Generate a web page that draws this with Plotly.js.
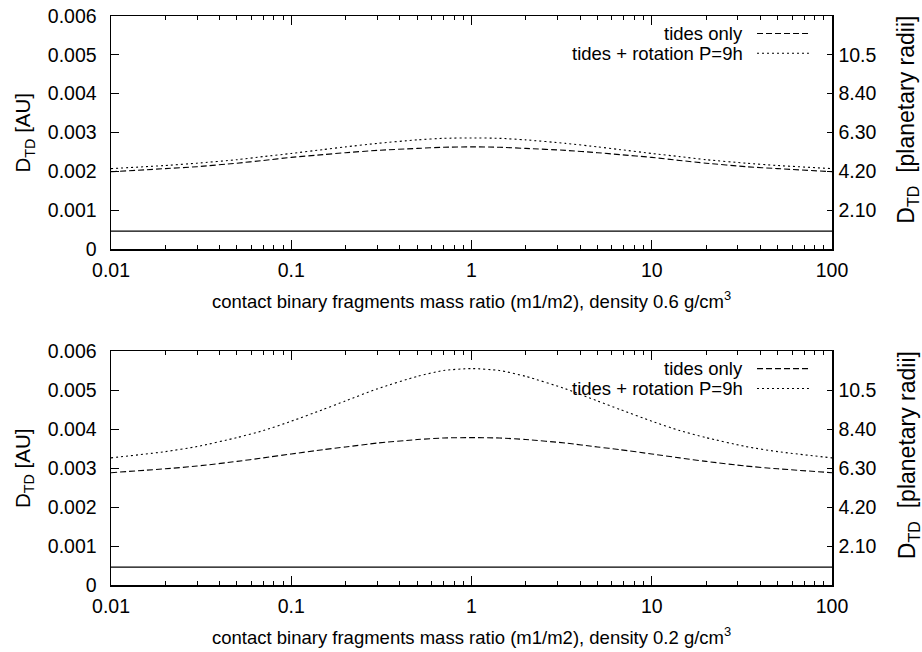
<!DOCTYPE html>
<html>
<head>
<meta charset="utf-8">
<script src="https://cdn.plot.ly/plotly-3.0.1.min.js"></script>
<style>html,body{margin:0;padding:0;background:#fff;}#chart{width:922px;height:652px;}</style>
</head>
<body>
<div id="chart"></div>
<script>
// mass ratio m1/m2
var massRatio = [0.01,0.02,0.03,0.05,0.07,0.1,0.15,0.2,0.3,0.5,0.7,1,1.43,2,3.33,5,6.67,10,14.3,20,33.3,50,100];
// density 0.6 g/cm3 (AU)
var tidesOnly06 = [0.00199,0.00207,0.00212,0.00221,0.00228,0.00236,0.00243,0.00248,0.00254,0.00259,0.00262,0.00263,0.00262,0.00259,0.00254,0.00248,0.00243,0.00236,0.00228,0.00221,0.00212,0.00207,0.00199];
var tidesRot06  = [0.00207,0.00215,0.00221,0.00230,0.00238,0.00246,0.00256,0.00263,0.00272,0.00281,0.00285,0.00286,0.00285,0.00281,0.00272,0.00263,0.00256,0.00246,0.00238,0.00230,0.00221,0.00215,0.00207];
// density 0.2 g/cm3 (AU)
var tidesOnly02 = [0.00288,0.00298,0.00305,0.00317,0.00326,0.00336,0.00347,0.00354,0.00364,0.00373,0.00377,0.00378,0.00377,0.00373,0.00364,0.00354,0.00347,0.00336,0.00326,0.00317,0.00305,0.00298,0.00288];
var tidesRot02  = [0.00326,0.00342,0.00355,0.00378,0.00396,0.00420,0.00450,0.00472,0.00503,0.00535,0.00550,0.00555,0.00550,0.00535,0.00503,0.00472,0.00450,0.00420,0.00396,0.00378,0.00355,0.00342,0.00326];
// planetary radius line (AU)
var radiusLineX = [0.01,100];
var radiusLineY = [0.00046,0.00046];

var xTickVals = [0.01,0.1,1,10,100];
var xTickText = ["0.01","0.1","1","10","100"];
var yTickVals = [0,0.001,0.002,0.003,0.004,0.005,0.006];
var yTickText = ["0","0.001","0.002","0.003","0.004","0.005","0.006"];
var y2TickVals = [2.1,4.2,6.3,8.4,10.5];
var y2TickText = ["2.10","4.20","6.30","8.40","10.5"];
var legendNames = ["tides only","tides + rotation P=9h"];
var xTitles = ["contact binary fragments mass ratio (m1/m2), density 0.6 g/cm<sup>3</sup>",
               "contact binary fragments mass ratio (m1/m2), density 0.2 g/cm<sup>3</sup>"];
var yTitle = "D<sub>TD</sub> [AU]";
var y2Title = "D<sub>TD</sub>\u00a0\u00a0[planetary radii]";

var minorVals = [];
for (var d = -2; d < 2; d++) { for (var m = 2; m <= 9; m++) { minorVals.push(m * Math.pow(10, d)); } }

var FAM = "Liberation Sans, Arial, Helvetica, sans-serif";
var FONT = {family: FAM, size: 18.5, color: "#000"};
var TICKFONT = {family: FAM, size: 19.5, color: "#000"};
var DASH = "6px,3px", DOT = "2px,3px";

function curve(x, y, xa, ya, dash, w) {
  return {x: x, y: y, xaxis: xa, yaxis: ya, type: "scatter", mode: "lines",
          line: {color: "#000", width: w, dash: dash, shape: "spline", smoothing: 0.6},
          showlegend: false, hoverinfo: "skip"};
}
var data = [
  curve(radiusLineX, radiusLineY, "x", "y", "solid", 1.3),
  curve(massRatio, tidesOnly06, "x", "y", DASH, 1.1),
  curve(massRatio, tidesRot06, "x", "y", DOT, 1.1),
  curve(radiusLineX, radiusLineY, "x2", "y3", "solid", 1.3),
  curve(massRatio, tidesOnly02, "x2", "y3", DASH, 1.1),
  curve(massRatio, tidesRot02, "x2", "y3", DOT, 1.1)
];

function xAxis(anchor) {
  return {type: "log", range: [-2, 2], anchor: anchor, tickmode: "array", tickvals: xTickVals, ticktext: xTickText,
          ticks: "inside", ticklen: 9, tickwidth: 1, tickcolor: "#000", showline: true, linecolor: "#000", linewidth: 1.5,
          mirror: "ticks", showgrid: false, zeroline: false, tickfont: TICKFONT, ticklabelstandoff: 3,
          minor: {tickmode: "array", tickvals: minorVals, ticks: "inside", ticklen: 4, tickwidth: 1, tickcolor: "#000", showgrid: false}};
}
function yAxis(domain, anchor) {
  return {range: [0, 0.006], domain: domain, anchor: anchor, tickmode: "array", tickvals: yTickVals, ticktext: yTickText,
          ticks: "inside", ticklen: 8, tickwidth: 1, tickcolor: "#000", showline: true, linecolor: "#000", linewidth: 1.5,
          mirror: true, showgrid: false, zeroline: false, tickfont: TICKFONT, ticklabelstandoff: 9};
}
function y2Axis(overlay, anchor, domain) {
  return {range: [0, 12.6], domain: domain, overlaying: overlay, anchor: anchor, side: "right", tickmode: "array", tickvals: y2TickVals, ticktext: y2TickText,
          ticks: "inside", ticklen: 5, tickwidth: 1, tickcolor: "#000", showline: true, linecolor: "#000", linewidth: 1.5,
          showgrid: false, zeroline: false, tickfont: TICKFONT, ticklabelstandoff: 1};
}

var annotations = [], shapes = [];
var panels = [{xa: "x", ya: "y"}, {xa: "x2", ya: "y3"}];
panels.forEach(function (p, i) {
  var xd = p.xa + " domain", yd = p.ya + " domain";
  annotations.push({text: xTitles[i], xref: xd, yref: yd, x: 0.5, y: 0, yanchor: "middle", xanchor: "center", yshift: -51, showarrow: false, font: FONT});
  annotations.push({text: yTitle, xref: xd, yref: yd, x: 0, y: 0.5, xanchor: "center", yanchor: "middle", xshift: -87, textangle: -90, showarrow: false, font: {family: FAM, size: 20.5, color: "#000"}});
  annotations.push({text: y2Title, xref: xd, yref: yd, x: 1, y: 0.555, xanchor: "center", yanchor: "middle", xshift: 76, textangle: -90, showarrow: false, font: {family: FAM, size: 23, color: "#000"}});
  var ly = [0.925, 0.84];
  legendNames.forEach(function (name, k) {
    annotations.push({text: name, xref: xd, yref: yd, x: 0.879, y: ly[k], xanchor: "right", yanchor: "middle", showarrow: false, font: FONT});
    shapes.push({type: "line", xref: xd, yref: yd, x0: 0.896, x1: 0.968, y0: ly[k], y1: ly[k],
                 line: {color: "#000", width: 1.1, dash: k === 0 ? DASH : DOT}});
  });
});

var layout = {
  width: 922, height: 652,
  margin: {l: 111, r: 90, t: 16, b: 67},
  paper_bgcolor: "#fff", plot_bgcolor: "#fff",
  font: FONT,
  showlegend: false,
  xaxis: xAxis("y"),
  yaxis: yAxis([0.5905, 1], "x"),
  yaxis2: y2Axis("y", "x", [0.5905, 1]),
  xaxis2: xAxis("y3"),
  yaxis3: yAxis([0, 0.4112], "x2"),
  yaxis4: y2Axis("y3", "x2", [0, 0.4112]),
  annotations: annotations,
  shapes: shapes
};

// invisible traces so the right-hand axes get drawn
data.push({x: radiusLineX, y: [0, 0], xaxis: "x", yaxis: "y2", type: "scatter", mode: "lines", line: {width: 0}, showlegend: false, hoverinfo: "skip", opacity: 0});
data.push({x: radiusLineX, y: [0, 0], xaxis: "x2", yaxis: "y4", type: "scatter", mode: "lines", line: {width: 0}, showlegend: false, hoverinfo: "skip", opacity: 0});

Plotly.newPlot("chart", data, layout, {staticPlot: true, displayModeBar: false});
</script>
</body>
</html>
